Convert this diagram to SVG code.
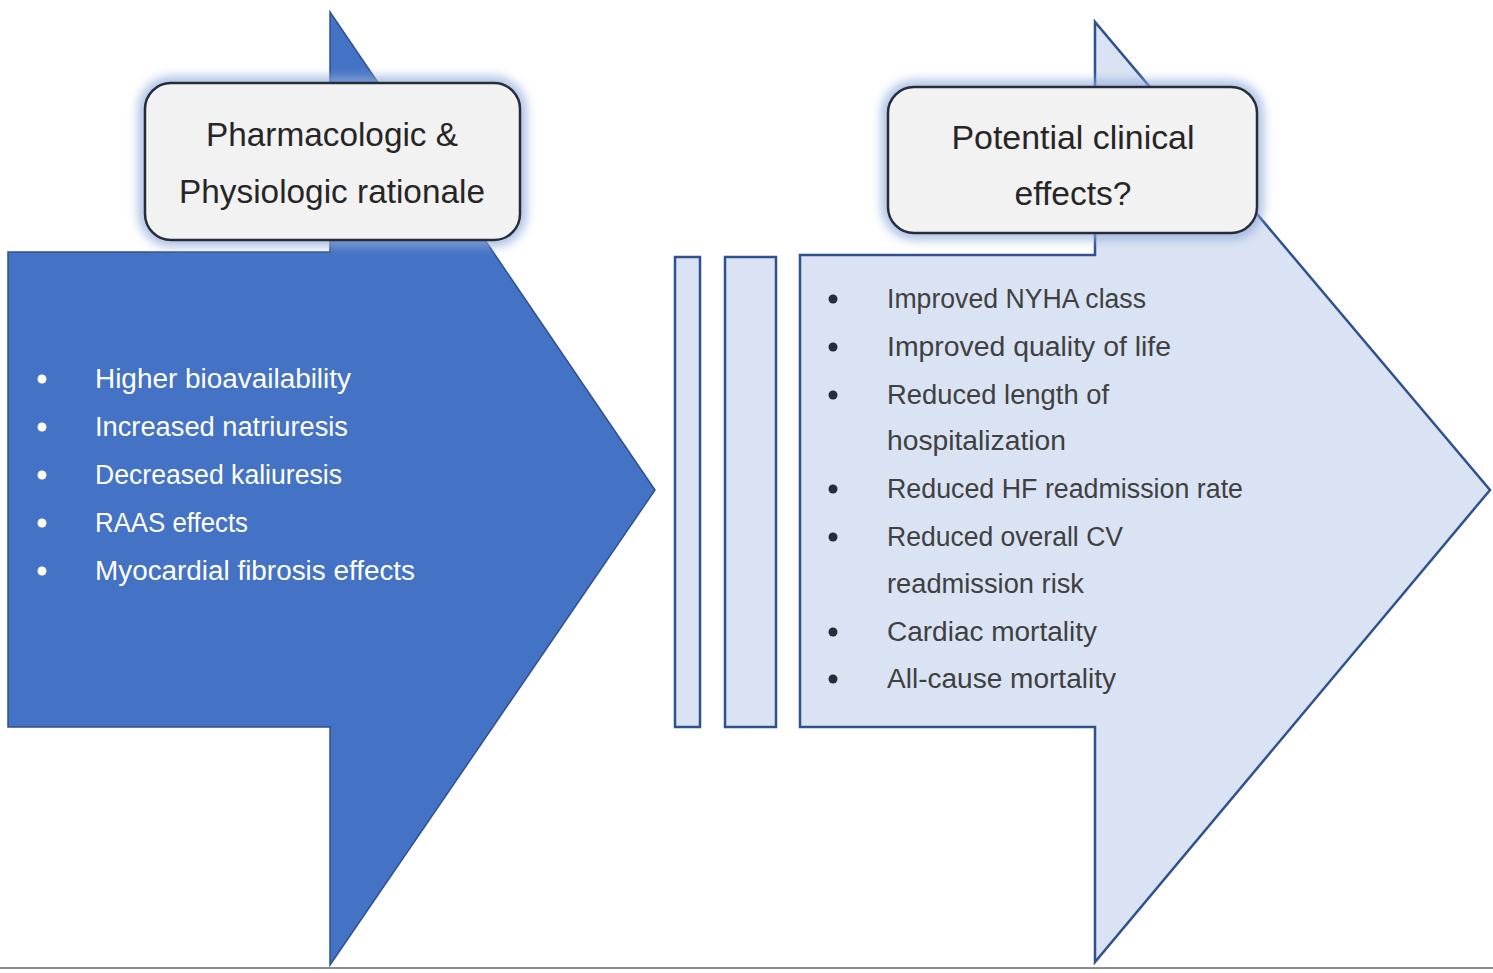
<svg xmlns="http://www.w3.org/2000/svg" width="1493" height="973" viewBox="0 0 1493 973">
<defs>
<filter id="glow" x="-20%" y="-30%" width="140%" height="160%">
<feGaussianBlur stdDeviation="6"/>
</filter>
<style>
.dark{fill:#4472C4;stroke:#2F528F;stroke-width:1.5}
.light{fill:#DAE3F3;stroke:#2F528F;stroke-width:2.5}
.box{fill:#F2F2F2;stroke:#262D38;stroke-width:2.5}
.halo{fill:none;stroke:#8FAADC;stroke-width:10}
.title{font-family:"Liberation Sans",Arial,sans-serif;font-size:33px;fill:#262626;text-anchor:middle}
.lt{font-family:"Liberation Sans",Arial,sans-serif;font-size:27px;fill:#FFFFFF}
.rt{font-family:"Liberation Sans",Arial,sans-serif;font-size:27px;fill:#404040}
</style>
</defs>
<rect width="1493" height="973" fill="#FFFFFF"/>
<line x1="0" y1="968" x2="1493" y2="968" stroke="#8C8C8C" stroke-width="2"/>

<g id="left-arrow">
<polygon class="dark" points="8,252 330,252 330,12 655,490 330,965 330,727 8,727"/>
<g fill="#FFFFFF">
<circle cx="42" cy="379" r="4.5"/><circle cx="42" cy="427" r="4.5"/><circle cx="42" cy="475" r="4.5"/><circle cx="42" cy="523" r="4.5"/><circle cx="42" cy="571" r="4.5"/>
</g>
<text class="lt" x="95" y="388" textLength="256" lengthAdjust="spacingAndGlyphs">Higher bioavailability</text>
<text class="lt" x="95" y="436" textLength="253" lengthAdjust="spacingAndGlyphs">Increased natriuresis</text>
<text class="lt" x="95" y="484" textLength="247" lengthAdjust="spacingAndGlyphs">Decreased kaliuresis</text>
<text class="lt" x="95" y="532" textLength="153" lengthAdjust="spacingAndGlyphs">RAAS effects</text>
<text class="lt" x="95" y="580" textLength="320" lengthAdjust="spacingAndGlyphs">Myocardial fibrosis effects</text>
</g>

<g id="bars">
<rect class="light" x="675" y="257" width="25" height="470"/>
<rect class="light" x="725" y="257" width="51" height="470"/>
</g>

<g id="right-arrow">
<polygon class="light" points="800,255 1095,255 1095,22 1490,490 1095,962 1095,727 800,727"/>
<g fill="#262D38">
<circle cx="833" cy="299" r="4.5"/><circle cx="833" cy="347" r="4.5"/><circle cx="833" cy="395" r="4.5"/><circle cx="833" cy="489" r="4.5"/><circle cx="833" cy="537" r="4.5"/><circle cx="833" cy="632" r="4.5"/><circle cx="833" cy="679" r="4.5"/>
</g>
<text class="rt" x="887" y="308" textLength="259" lengthAdjust="spacingAndGlyphs">Improved NYHA class</text>
<text class="rt" x="887" y="356" textLength="284" lengthAdjust="spacingAndGlyphs">Improved quality of life</text>
<text class="rt" x="887" y="404" textLength="222" lengthAdjust="spacingAndGlyphs">Reduced length of</text>
<text class="rt" x="887" y="450" textLength="179" lengthAdjust="spacingAndGlyphs">hospitalization</text>
<text class="rt" x="887" y="498" textLength="356" lengthAdjust="spacingAndGlyphs">Reduced HF readmission rate</text>
<text class="rt" x="887" y="546" textLength="236" lengthAdjust="spacingAndGlyphs">Reduced overall CV</text>
<text class="rt" x="887" y="593" textLength="197" lengthAdjust="spacingAndGlyphs">readmission risk</text>
<text class="rt" x="887" y="641" textLength="210" lengthAdjust="spacingAndGlyphs">Cardiac mortality</text>
<text class="rt" x="887" y="688" textLength="229" lengthAdjust="spacingAndGlyphs">All-cause mortality</text>
</g>

<g id="left-title">
<rect class="halo" x="145" y="83" width="375" height="157" rx="26" filter="url(#glow)"/>
<rect class="box" x="145" y="83" width="375" height="157" rx="26"/>
<text class="title" x="332" y="146" textLength="252" lengthAdjust="spacingAndGlyphs">Pharmacologic &amp;</text>
<text class="title" x="332" y="203" textLength="306" lengthAdjust="spacingAndGlyphs">Physiologic rationale</text>
</g>

<g id="right-title">
<rect class="halo" x="888" y="87" width="369" height="146" rx="26" filter="url(#glow)"/>
<rect class="box" x="888" y="87" width="369" height="146" rx="26"/>
<text class="title" x="1073" y="149" textLength="243" lengthAdjust="spacingAndGlyphs">Potential clinical</text>
<text class="title" x="1073" y="205" textLength="117" lengthAdjust="spacingAndGlyphs">effects?</text>
</g>
</svg>
